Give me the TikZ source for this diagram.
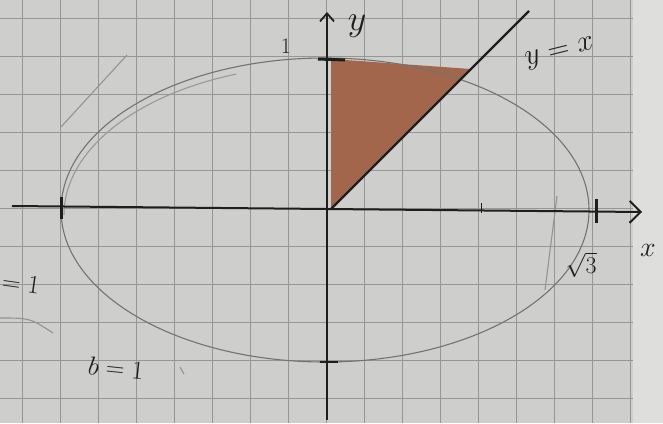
\documentclass[tikz,border=0pt]{standalone}
\usepackage{fix-cm}
\usetikzlibrary{arrows.meta,calc}
\definecolor{paper}{RGB}{206,206,204}
\definecolor{margin}{RGB}{222,222,220}
\definecolor{gridc}{RGB}{150,150,150}
\definecolor{brownfill}{RGB}{162,102,76}
\definecolor{pencil}{RGB}{115,115,115}
\definecolor{ink}{RGB}{30,30,30}
\begin{document}
\begin{tikzpicture}[x=1pt,y=-1pt,
  gridline/.style={gridc,line width=0.9pt},
  pencilline/.style={pencil,line width=1.1pt},
  inkline/.style={ink,line width=2pt},
  tickmark/.style={ink,line width=3pt},
  hand/.style={ink,inner sep=0pt}]
\fill[paper] (0,0) rectangle (663,423);
\fill[margin] (633,0) rectangle (663,423);
\useasboundingbox (0,0) rectangle (663,423);
% grid
\foreach \x in {22,60,...,630} \draw[gridline] (\x,0) -- (\x,423);
\foreach \y in {18,56,...,420} \draw[gridline] (0,\y) -- (633,\y);
% axes / line coordinates
\coordinate (xl) at (12,206);
\coordinate (xr) at (642,212);
\coordinate (yb) at (327,420);
\coordinate (yt) at (327,12);
\coordinate (O) at (331,209);
\coordinate (T) at (529,11);
% shaded region
\fill[brownfill] (331,59) -- ($(O)!0.707!(T)$) -- (O) -- cycle;
% ellipse
\draw[pencilline] (325,210) ellipse [x radius=264, y radius=152];
\draw[pencilline,gray!80] (64,215) arc[start angle=180,end angle=250,x radius=262,y radius=150];
% faint strokes
\draw[pencilline,gray!85] (61,127) -- (127,55);
\draw[pencilline,gray!85] (0,318) .. controls (30,318) .. (53,333);
\draw[pencilline,gray!85] (180,367) -- (184,374);
\draw[pencilline,gray!85] (557,196) -- (545,290);
% axes
\draw[inkline,-{Straight Barb[length=11pt,width=22pt,line width=2pt]}] (xl) -- (xr);
\draw[ink,line width=1.8pt,-{Straight Barb[length=8pt,width=14pt,line width=1.8pt]}] (yb) -- (yt);
\draw[ink,line width=2.4pt] (O) -- (T);
% ticks
\draw[tickmark] (61,197) -- (61,219);
\draw[tickmark] (596,199) -- (596,223);
\draw[ink,line width=1pt] (481,203) -- (481,213);
\draw[tickmark] (318,59) -- (345,60);
\draw[ink,line width=1.2pt] (320,362) -- (338,362);
% labels
\node[hand,font=\fontsize{22}{22}\selectfont] (one) at (286,46) {1};
\node[hand,font=\fontsize{36}{36}\selectfont] (ylab) at (357,26) {$y$};
\node[hand,font=\fontsize{30}{30}\selectfont,rotate=14] (yx) at (560,54) {$y=x$};
\node[hand,font=\fontsize{28}{28}\selectfont] (xlab) at (648,250) {$x$};
\node[hand,font=\fontsize{24}{24}\selectfont] (sqrt3) at (581,265) {$\sqrt{3}$};
\node[hand,font=\fontsize{26}{26}\selectfont,rotate=-6] (b1) at (116,368) {$b=1$};
\node[hand,font=\fontsize{26}{26}\selectfont,rotate=-8,anchor=west] (a1) at (2,281) {$=1$};
\end{tikzpicture}
\end{document}
